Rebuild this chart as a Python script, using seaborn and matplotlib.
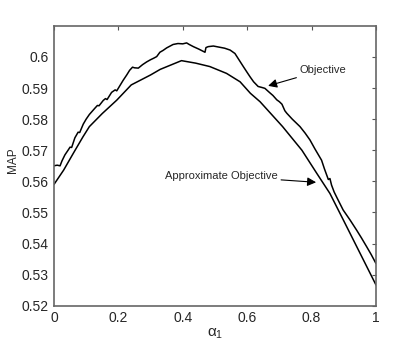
import numpy as np
import pandas as pd
import seaborn as sns
from matplotlib import pyplot as plt

# Objective curve (noisy, upper)
obj_x = [0.0, 0.01, 0.019, 0.025, 0.034, 0.045, 0.05, 0.055, 0.065, 0.075, 0.08, 0.091,
         0.10, 0.11, 0.127, 0.135, 0.14, 0.153, 0.16, 0.165, 0.179, 0.19, 0.195, 0.205,
         0.215, 0.226, 0.235, 0.244, 0.25, 0.262, 0.275, 0.288, 0.30, 0.31, 0.319, 0.329,
         0.339, 0.35, 0.37, 0.385, 0.40, 0.412, 0.42, 0.433, 0.45, 0.469, 0.472, 0.479,
         0.495, 0.51, 0.53, 0.547, 0.562, 0.575, 0.588, 0.60, 0.609, 0.62, 0.634, 0.645,
         0.655, 0.67, 0.68, 0.692, 0.70, 0.708, 0.717, 0.723, 0.74, 0.764, 0.78, 0.795,
         0.81, 0.831, 0.84, 0.852, 0.857, 0.862, 0.87, 0.88, 0.898, 0.92, 0.94, 0.955,
         0.971, 0.985, 1.0]
obj_y = [0.5650, 0.5652, 0.5650, 0.5666, 0.5685, 0.5702, 0.5710, 0.5709, 0.5740, 0.5758,
         0.5757, 0.5784, 0.5800, 0.5815, 0.5835, 0.5844, 0.5843, 0.5860, 0.5866, 0.5863,
         0.5886, 0.5894, 0.5891, 0.5908, 0.5925, 0.5942, 0.5957, 0.5967, 0.5965, 0.5964,
         0.5975, 0.5984, 0.5991, 0.5996, 0.6001, 0.6015, 0.6021, 0.6029, 0.6040, 0.6043,
         0.6042, 0.6045, 0.6040, 0.6033, 0.6025, 0.6015, 0.6030, 0.6033, 0.6035, 0.6032,
         0.6028, 0.6022, 0.6011, 0.5990, 0.5969, 0.5950, 0.5936, 0.5920, 0.5905, 0.5902,
         0.5899, 0.5885, 0.5876, 0.5862, 0.5856, 0.5848, 0.5827, 0.5819, 0.5800, 0.5776,
         0.5755, 0.5733, 0.5705, 0.5668, 0.5640, 0.5606, 0.5609, 0.5588, 0.5566, 0.5545,
         0.5508, 0.5475, 0.5443, 0.5418, 0.5390, 0.5365, 0.5336]

# Approximate objective curve (smooth, lower)
approx_x = [0.0, 0.03, 0.06, 0.09, 0.11, 0.15, 0.195, 0.24, 0.30, 0.33, 0.396, 0.44,
            0.484, 0.536, 0.578, 0.61, 0.64, 0.71, 0.77, 0.816, 0.857, 0.90, 0.95, 1.0]
approx_y = [0.559, 0.5636, 0.569, 0.5743, 0.5776, 0.5818, 0.5861, 0.591, 0.5942, 0.596,
            0.5988, 0.598, 0.5969, 0.5947, 0.592, 0.5883, 0.5856, 0.5776, 0.570, 0.5626,
            0.5561, 0.5473, 0.5370, 0.5267]

x_ticks = [0, 0.2, 0.4, 0.6, 0.8, 1]
x_labels = ['0', '0.2', '0.4', '0.6', '0.8', '1']
y_ticks = [0.52, 0.53, 0.54, 0.55, 0.56, 0.57, 0.58, 0.59, 0.6]
y_labels = ['0.52', '0.53', '0.54', '0.55', '0.56', '0.57', '0.58', '0.59', '0.6']

sns.set_style('white')
plt.rcParams['font.family'] = ['Liberation Sans', 'DejaVu Sans']

fig = plt.figure(figsize=(4.15, 3.44), dpi=100)
ax = fig.add_axes([0.130, 0.111, 0.776, 0.814])

df_obj = pd.DataFrame({'alpha': obj_x, 'MAP': obj_y})
df_app = pd.DataFrame({'alpha': approx_x, 'MAP': approx_y})
sns.lineplot(data=df_obj, x='alpha', y='MAP', ax=ax, color='black', linewidth=1.1)
sns.lineplot(data=df_app, x='alpha', y='MAP', ax=ax, color='black', linewidth=1.1)

ax.set_xlim(0, 1)
ax.set_ylim(0.52, 0.61)
ax.set_xticks(x_ticks)
ax.set_xticklabels(x_labels)
ax.set_yticks(y_ticks)
ax.set_yticklabels(y_labels)
ax.tick_params(direction='in', length=3, width=0.8, color='#555555',
               top=True, right=True, labelsize=10, pad=4)
for s in ax.spines.values():
    s.set_color('#666666')
    s.set_linewidth(1.2)

ax.set_xlabel(r'$\mathregular{\alpha_1}$', fontsize=11)
ax.xaxis.set_label_coords(0.5, -0.075)
ax.set_ylabel('MAP', fontsize=8.5)
ax.yaxis.set_label_coords(-0.11, 0.52)

# annotations
ax.annotate('Objective', xy=(0.665, 0.5907), xytext=(0.763, 0.5958),
            fontsize=8, va='center', ha='left',
            arrowprops=dict(arrowstyle='-|>', color='black', lw=0.8,
                            mutation_scale=13, shrinkA=0, shrinkB=0))
ax.annotate('Approximate Objective', xy=(0.814, 0.5597), xytext=(0.345, 0.5618),
            fontsize=8, va='center', ha='left',
            arrowprops=dict(arrowstyle='-|>', color='black', lw=0.8,
                            mutation_scale=13, shrinkA=0, shrinkB=0))

fig.savefig('out.png', dpi=100)
